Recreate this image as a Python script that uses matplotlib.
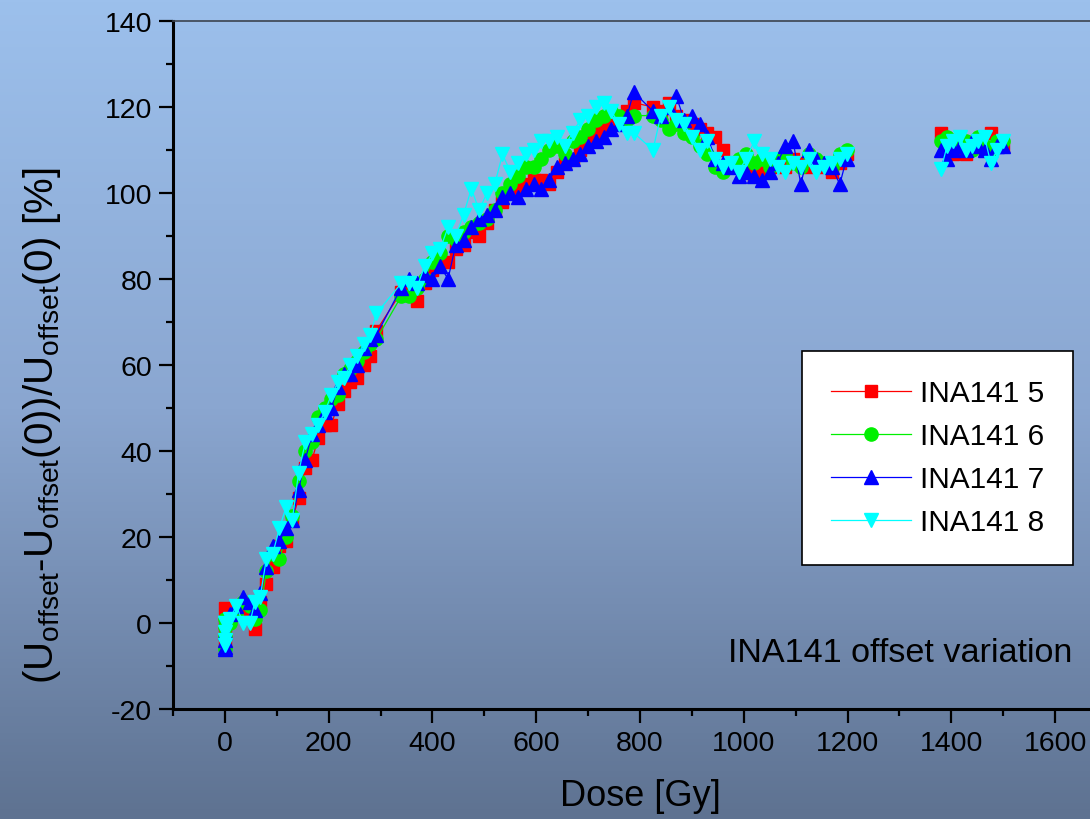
import numpy as np
import matplotlib
matplotlib.use("Agg")
import matplotlib.pyplot as plt
from matplotlib.colors import LinearSegmentedColormap
from matplotlib.ticker import MultipleLocator

plt.rcParams['font.family'] = ['Liberation Sans', 'DejaVu Sans']
plt.rcParams['mathtext.fontset'] = 'custom'
plt.rcParams['mathtext.rm'] = 'Liberation Sans'
plt.rcParams['axes.unicode_minus'] = False

# dose points [Gy], shared by the four devices
dose = [0, 0, 0, 0, 10, 22, 35, 48, 58, 68, 80, 92, 105, 118, 130, 142, 155, 168,
        180, 192, 205, 218, 230, 242, 255, 268, 280, 292,
        340, 355, 370, 385, 400, 415, 430, 445, 460, 475, 490, 505, 520, 535, 550,
        565, 580, 595, 610, 625, 640, 655, 670, 685, 700, 715, 730, 745, 760, 775, 788,
        825, 840, 855, 870, 885, 900, 915, 930, 945, 960, 975, 990, 1005, 1020, 1035,
        1050, 1065, 1080, 1095, 1110, 1125, 1140, 1155, 1170, 1185, 1198,
        1380, 1392, 1404, 1416, 1428, 1440, 1452, 1464, 1476, 1488, 1500]

ina5 = [3.5, 0, -2.5, -4.5, 1, 3, 4, 2, -1.5, 5, 9, 13, 18, 19, 24, 29, 36, 38,
        43, 46, 46, 51, 54, 56, 57, 60, 62, 68,
        77, 78, 75, 79, 82, 85, 84, 87, 88, 91, 90, 93, 96, 98, 100,
        101, 102, 103, 103, 102, 105, 107, 108, 110, 112, 114, 115, 118, 117, 119, 121,
        120, 119, 121, 118, 117, 116, 115, 114, 113, 110, 107, 106, 105, 104, 105,
        106, 107, 106, 108, 107, 106, 107, 106, 105, 107, 109,
        114, 112, 109, 110, 109, 111, 112, 110, 114, 111, 111]

ina6 = [1, -1, -3, -6, 0, 2, 5, 4, 1, 3, 12, 16, 15, 20, 25, 33, 40, 42,
        48, 50, 52, 53, 58, 59, 61, 63, 65, 66,
        76, 76, 78, 80, 84, 86, 90, 89, 91, 92, 93, 94, 96, 100, 102,
        104, 106, 106, 108, 110, 111, 109, 112, 113, 115, 117, 118, 119, 118, 117, 118,
        118, 117, 115, 116, 114, 113, 111, 109, 106, 105, 107, 108, 109, 107, 108,
        106, 108, 109, 107, 106, 109, 108, 107, 106, 109, 110,
        112, 113, 112, 111, 112, 110, 113, 111, 109, 112, 112]

ina7 = [-2, -4, -5.5, -6, 2, 4, 6, 5, 3, 7, 13, 18, 19, 22, 24, 31, 38, 44,
        46, 49, 50, 55, 58, 58, 60, 64, 66, 67,
        78, 80, 79, 81, 80, 83, 80, 88, 89, 92, 94, 95, 96, 99, 100,
        99, 101, 102, 101, 103, 106, 107, 108, 109, 111, 112, 113, 115, 116, 118, 123.5,
        119, 118, 120, 122.5, 117, 118, 116, 113, 108, 107, 106, 104, 105, 104, 103,
        105, 107, 111, 112, 102, 110, 108, 107, 106, 102, 108,
        110, 108, 110, 111, 110, 112, 111, 110, 108, 111, 111]

ina8 = [0, -2, -4, -5, 1, 4, 0, 0, 5, 6, 15, 16, 22, 27, 24, 35, 42, 44,
        46, 49, 53, 56, 57, 60, 62, 65, 67, 72,
        79, 79, 78, 83, 86, 87, 92, 90, 95, 101, 96, 100, 102, 109, 105,
        107, 109, 110, 112, 112, 113, 111, 114, 117, 118, 120, 121, 119, 116, 114, 114,
        110, 118, 120, 117, 116, 113, 110, 112, 108, 106, 107, 105, 108, 112, 109,
        108, 106, 105, 107, 106, 108, 105, 106, 107, 108, 109,
        105.5, 111, 112, 113, 110, 111, 112, 113, 107, 110, 112]

labels = ['INA141 5', 'INA141 6', 'INA141 7', 'INA141 8']
colors = ['#ff0000', '#00f000', '#0000ff', '#00ffff']
markers = ['s', 'o', '^', 'v']
msizes = [9, 9.5, 10, 10]

fig = plt.figure(figsize=(10.9, 8.2), dpi=100)

# background gradient
bg = fig.add_axes([0, 0, 1, 1], zorder=-1)
cmap = LinearSegmentedColormap.from_list('bg', ['#9cc0ec', '#8aa6d0', '#5e7291'])
bg.imshow(np.linspace(0, 1, 256).reshape(-1, 1), aspect='auto', cmap=cmap,
          extent=[0, 1, 0, 1])
bg.axis('off')

ax = fig.add_axes([173/1090, 1-710/820, (1107-173)/1090, 688/820])
ax.set_facecolor('none')

x = np.array(dose, dtype=float)
gap = np.where(np.diff(x) > 100)[0] + 1
for vals, lab, c, m, ms in zip([ina5, ina6, ina7, ina8], labels, colors, markers, msizes):
    xs = np.insert(x, gap, np.nan)
    ys = np.insert(np.array(vals, dtype=float), gap, np.nan)
    ax.plot(xs, ys, color=c, lw=0.9, marker=m, ms=ms, mec=c, mfc=c, label=lab)

ax.set_xlim(-100, 1700)
ax.set_ylim(-20, 140)
ax.xaxis.set_major_locator(MultipleLocator(200))
ax.xaxis.set_minor_locator(MultipleLocator(100))
ax.yaxis.set_major_locator(MultipleLocator(20))
ax.yaxis.set_minor_locator(MultipleLocator(10))
ax.tick_params(which='major', direction='out', length=10, width=1.6,
               labelsize=20.5, pad=5, top=False, right=False)
ax.tick_params(which='minor', direction='out', length=5, width=1.6,
               top=False, right=False)
for s in ['left', 'bottom']:
    ax.spines[s].set_linewidth(2.2)
    ax.spines[s].set_color('black')
ax.spines['top'].set_linewidth(1.2)
ax.spines['top'].set_color('#3c4450')
ax.spines['right'].set_visible(False)

fig.text(640/1090, 1-797/820, 'Dose [Gy]', fontsize=26, ha='center', va='center')
fig.text(42/1090, 1-426/820,
         r'(U$_{\mathrm{offset}}$-U$_{\mathrm{offset}}$(0))/U$_{\mathrm{offset}}$(0) [%]',
         fontsize=29, rotation=90, ha='center', va='center')
fig.text(1072/1090, 1-653/820, 'INA141 offset variation', fontsize=24.6,
         ha='right', va='center')

leg = ax.legend(loc='upper right', bbox_to_anchor=(1073/1090, 1-352/820),
                bbox_transform=fig.transFigure, fontsize=21.5, frameon=True,
                fancybox=False, edgecolor='black', facecolor='white', framealpha=1,
                handlelength=2.7, handletextpad=0.3, borderpad=0.95, labelspacing=0.5,
                borderaxespad=0)
leg.get_frame().set_linewidth(1.2)

fig.savefig('out.png', dpi=100)
